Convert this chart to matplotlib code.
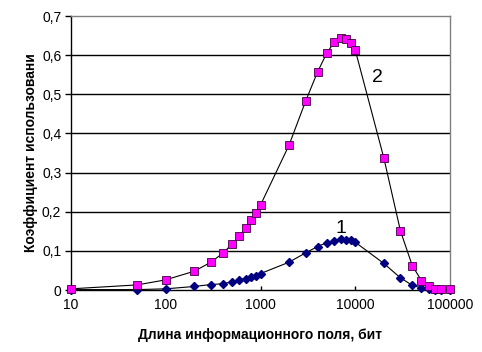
import numpy as np
import matplotlib.pyplot as plt
from matplotlib.ticker import FixedLocator, FuncFormatter, NullLocator

plt.rcParams['font.family'] = ['Liberation Sans', 'DejaVu Sans']

# field length, bit
x_vals = [10, 50, 100, 200, 300, 400, 500, 600, 700, 800, 900, 1000,
          2000, 3000, 4000, 5000, 6000, 7000, 8000, 9000, 10000,
          20000, 30000, 40000, 50000, 60000, 70000, 80000, 100000]

# curve 2 (squares)
series2 = [0.003, 0.013, 0.026, 0.048, 0.071, 0.094, 0.117, 0.138, 0.158, 0.179, 0.197, 0.217,
           0.370, 0.483, 0.557, 0.605, 0.633, 0.644, 0.640, 0.630, 0.613,
           0.338, 0.151, 0.062, 0.024, 0.010, 0.003, 0.003, 0.002]

# curve 1 (diamonds)
series1 = [0.001, 0.001, 0.003, 0.009, 0.014, 0.016, 0.021, 0.026, 0.029, 0.034, 0.037, 0.042,
           0.071, 0.095, 0.111, 0.121, 0.126, 0.130, 0.128, 0.128, 0.122,
           0.068, 0.031, 0.012, 0.005, 0.002, 0.001, 0.001, 0.001]

y_ticks = [0, 0.1, 0.2, 0.3, 0.4, 0.5, 0.6, 0.7]
x_ticks = [10, 100, 1000, 10000, 100000]

fig = plt.figure(figsize=(4.82, 3.52), dpi=100)
ax = fig.add_axes([71 / 482, 1 - 290 / 352, (450 - 71) / 482, (290 - 16) / 352])

ax.set_xscale('log')
ax.set_xlim(10, 100000)
ax.set_ylim(0, 0.7)

for yv in y_ticks[1:-1]:
    ax.axhline(yv, color='black', lw=1, zorder=1)

ax.plot(x_vals, series1, color='black', lw=0.8, marker='D', ms=4.2,
        mfc='#000080', mec='#000080', zorder=3, clip_on=False)
ax.plot(x_vals, series2, color='black', lw=0.8, marker='s', ms=5.2,
        mfc='#FF00FF', mec='#400040', mew=0.6, zorder=4, clip_on=False)

ax.text(7000, 0.156, '1', fontsize=14, ha='center', va='center')
ax.text(17000, 0.544, '2', fontsize=14, ha='center', va='center')

ax.xaxis.set_major_locator(FixedLocator(x_ticks))
ax.xaxis.set_minor_locator(NullLocator())
ax.xaxis.set_major_formatter(FuncFormatter(lambda v, p: '%d' % v))
ax.yaxis.set_major_locator(FixedLocator(y_ticks))
ax.yaxis.set_major_formatter(FuncFormatter(lambda v, p: ('%g' % round(v, 1)).replace('.', ',')))

ax.tick_params(axis='x', direction='in', length=3, labelsize=10, pad=6, width=1)
ax.tick_params(axis='y', direction='out', length=4, labelsize=10, pad=3, width=1)

for side in ['top', 'right']:
    ax.spines[side].set_color('#808080')
    ax.spines[side].set_linewidth(1)
for side in ['left', 'bottom']:
    ax.spines[side].set_color('black')
    ax.spines[side].set_linewidth(1)

ax.set_xlabel('Длина информационного поля, бит', fontsize=10, fontweight='bold', labelpad=11)
ax.set_ylabel('Коэффициент использовани', fontsize=10, fontweight='bold', labelpad=3)

fig.savefig('out.png', dpi=100)
